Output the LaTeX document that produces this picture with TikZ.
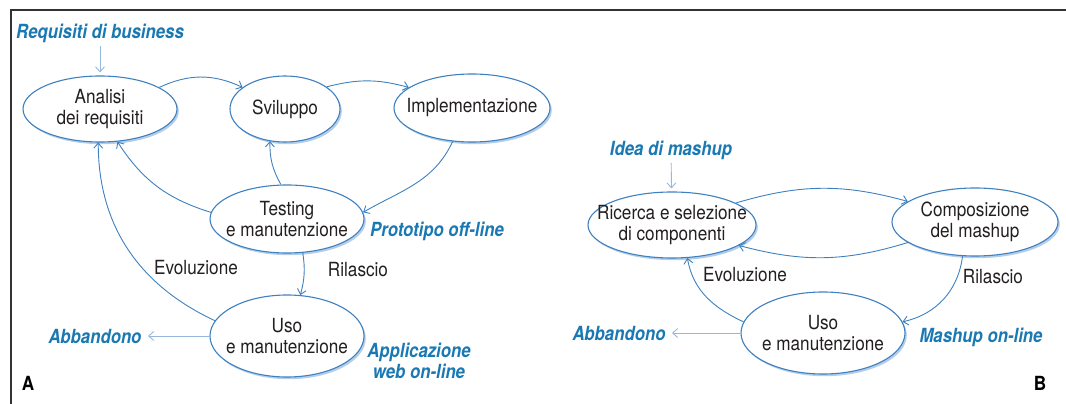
\documentclass[tikz,border=0pt]{standalone}
\usepackage{fontspec}
\setmainfont{TeX Gyre Heros}[FakeStretch=0.88]
\newfontfamily\notefont{TeX Gyre Heros}[FakeStretch=0.86]
\usepackage{tikz}
\usetikzlibrary{arrows.meta,shapes,shadows}

\definecolor{lineblue}{RGB}{62,128,192}
\definecolor{noteblue}{RGB}{26,120,178}
\definecolor{paleblue}{RGB}{150,184,222}
\definecolor{shadeblue}{RGB}{172,200,230}
\definecolor{inkgray}{RGB}{35,31,32}
\definecolor{framegray}{RGB}{50,50,50}

\begin{document}
\begin{tikzpicture}[x=1pt,y=1pt,
  font=\fontsize{19.5}{21}\selectfont, text=inkgray,
  >={Straight Barb[length=5pt,width=9pt]},
  state/.style={ellipse,draw=lineblue,line width=1.1pt,fill=white,align=center,
    inner xsep=-20pt,inner ysep=-6pt,
    drop shadow={shadow xshift=1.8pt,shadow yshift=-2.2pt,fill=shadeblue,opacity=0.9}},
  flow/.style={->,draw=lineblue,line width=0.9pt},
  feed/.style={->,draw=paleblue,line width=0.9pt,shorten >=3pt},
  note/.style={text=noteblue,font=\notefont\bfseries\itshape\fontsize{19.5}{21}\selectfont,align=center},
  tag/.style={text=black,font=\bfseries\fontsize{19.5}{21}\selectfont}]
\useasboundingbox (0,0) rectangle (1066,404);
\draw[framegray,line width=1.4pt] (1066,394) -- (11,394) -- (11,0);

% A: classic web application
\node[note] at (100,371) (req) {Requisiti di business};
\node[state,minimum width=154pt,minimum height=66pt] at (100,295) (ana) {Analisi\\dei requisiti};
\node[state,minimum width=110pt,minimum height=66pt] at (285,295) (svi) {Sviluppo};
\node[state,minimum width=156pt,minimum height=68pt] at (472,296) (imp) {Implementazione};
\node[state,minimum width=154pt,minimum height=68pt] at (287,185) (tes) {Testing\\e manutenzione};
\node[state,minimum width=154pt,minimum height=82pt] at (287,68) (uso) {Uso\\e manutenzione};
\node[note] at (437,173) (proto) {Prototipo off-line};
\node[note] at (419,43) (webapp) {Applicazione\\web on-line};
\node[note] at (95,68) (abbA) {Abbandono};
\node at (196,136) (evoA) {Evoluzione};
\node at (358,134) (rilA) {Rilascio};
\node[tag] at (28,21) (labA) {A};

\draw[feed] (req) -- (ana);
\draw[flow] (ana.20) to[bend left=25] (svi.153);
\draw[flow] (svi.28) to[bend left=15] (imp.162);
\draw[flow] (imp.-120) to[out=-115,in=30] (tes.5);
\draw[flow] (tes.100) to[bend left=15] (svi.-115);
\draw[flow] (tes.175) to[bend left=20] (ana.-62);
\draw[flow] (tes.-65) to[bend left=12] (uso.72);
\draw[flow] (uso.168) to[out=155,in=-90] (ana.-93);
\draw[feed] (uso.west) -- (abbA.east);

% B: mashup
\node[note] at (671,254) (idea) {Idea di mashup};
\node[state,minimum width=168pt,minimum height=66pt] at (672,179) (ric) {Ricerca e selezione\\di componenti};
\node[state,minimum width=166pt,minimum height=68pt] at (975,182) (com) {Composizione\\del mashup};
\node[state,minimum width=164pt,minimum height=82pt] at (823,71) (usoB) {Uso\\e manutenzione};
\node[note] at (981,67) (online) {Mashup on-line};
\node[note] at (619,71) (abbB) {Abbandono};
\node at (745,129) (evoB) {Evoluzione};
\node at (993,127) (rilB) {Rilascio};
\node[tag] at (1040,21) (labB) {B};

\draw[feed] (idea) -- (ric);
\draw[flow] (ric.19) to[bend left=16] (com.163);
\draw[flow] (com.-163) to[bend left=16] (ric.-17);
\draw[flow] (com.-110) to[bend left=35] (usoB.8);
\draw[flow] (usoB.172) to[out=155,in=-80] (ric.-65);
\draw[feed] (usoB.west) -- (abbB.east);
\end{tikzpicture}
\end{document}
